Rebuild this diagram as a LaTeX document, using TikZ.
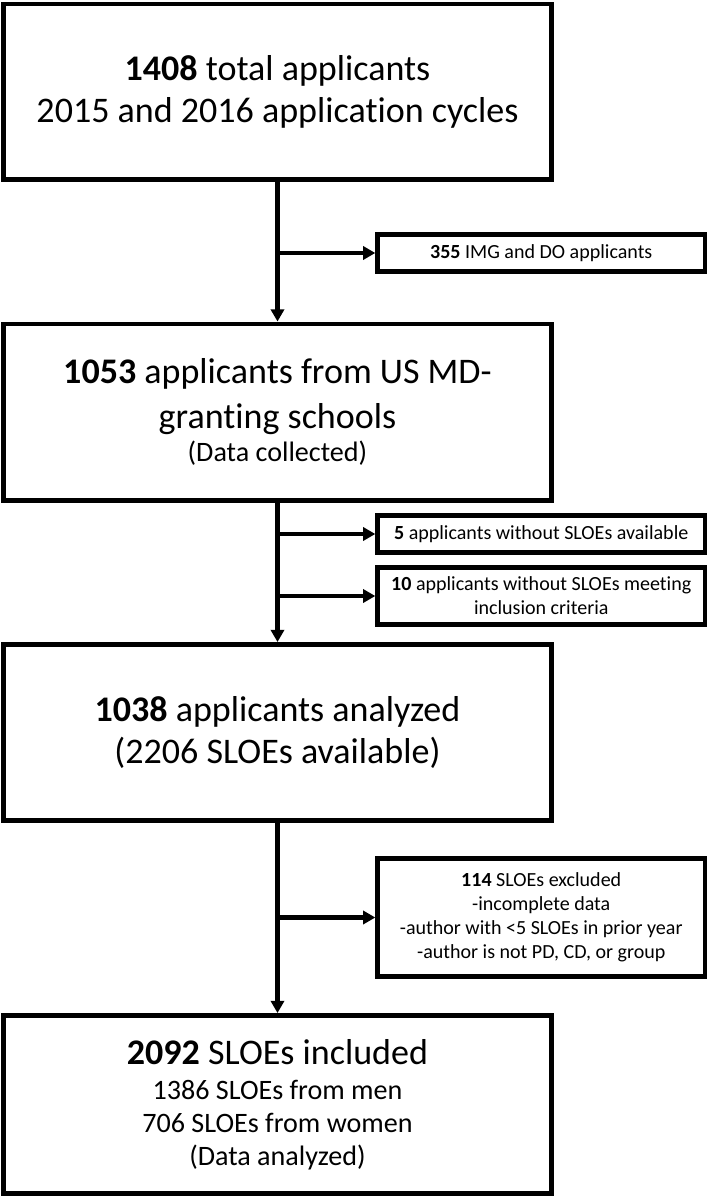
\documentclass[tikz,border=0pt]{standalone}
\usepackage{fontspec}
\setmainfont{Carlito}[Ligatures=NoCommon]
\usetikzlibrary{arrows.meta}

\tikzset{
    mainbox/.style={draw=black, line width=2.8pt, minimum width=10.96cm, align=center, inner sep=0pt,
        font=\fontsize{20.5}{24}\selectfont},
    sidebox/.style={draw=black, line width=2.5pt, minimum width=6.55cm, align=center, inner sep=0pt,
        font=\fontsize{11.4}{13.6}\selectfont},
    conn/.style={line width=2.3pt, -{Triangle[length=7pt, width=7.5pt]}},
}
\newcommand{\midtxt}{\fontsize{16}{18.7}\selectfont}

\begin{document}
\begin{tikzpicture}[x=0.02cm, y=-0.02cm]
        \useasboundingbox (0,0) rectangle (709,1196);

        % main column
        \node[mainbox, minimum height=3.51cm] (total) at (277.5, 91.75)
            {\textbf{1408} total applicants\\2015 and 2016 application cycles};
        \node[mainbox, minimum height=3.53cm] (usmd) at (277.5, 412.25)
            {\textbf{1053} applicants from US MD-\\[1.5pt]granting schools\\[-5.3pt]\midtxt (Data collected)};
        \node[mainbox, minimum height=3.52cm] (analyzed) at (277.5, 732.5)
            {\textbf{1038} applicants analyzed\\(2206 SLOEs available)};
        \node[mainbox, minimum height=3.56cm, font=\midtxt] (included) at (277.5, 1104.5)
            {\fontsize{20.5}{24}\selectfont\textbf{2092} SLOEs included\\[1.1pt]1386 SLOEs from men\\706 SLOEs from women\\(Data analyzed)};

        % exclusion boxes
        \node[sidebox, minimum height=0.74cm] (imgdo) at (541.25, 253)
            {\textbf{355} IMG and DO applicants};
        \node[sidebox, minimum height=0.74cm] (nosloe) at (541.25, 534)
            {\textbf{5} applicants without SLOEs available};
        \node[sidebox, minimum height=1.14cm] (nocrit) at (541.25, 596)
            {\textbf{10} applicants without SLOEs meeting\\inclusion criteria};
        \node[sidebox, minimum height=2.36cm] (excl) at (541.25, 917.5)
            {\textbf{114} SLOEs excluded\\-incomplete data\\-author with <5 SLOEs in prior year\\-author is not PD, CD, or group};

        % arrows
        \draw[conn] (total) -- (usmd);
        \draw[conn] (usmd) -- (analyzed);
        \draw[conn] (analyzed) -- (included);

        \coordinate (j1) at (277.5, 253);
        \coordinate (j2) at (277.5, 534);
        \coordinate (j3) at (277.5, 596);
        \coordinate (j4) at (277.5, 917.5);
        \draw[conn] (j1) -- (imgdo);
        \draw[conn] (j2) -- (nosloe);
        \draw[conn] (j3) -- (nocrit);
        \draw[conn] (j4) -- (excl);
    \end{tikzpicture}
\end{document}
